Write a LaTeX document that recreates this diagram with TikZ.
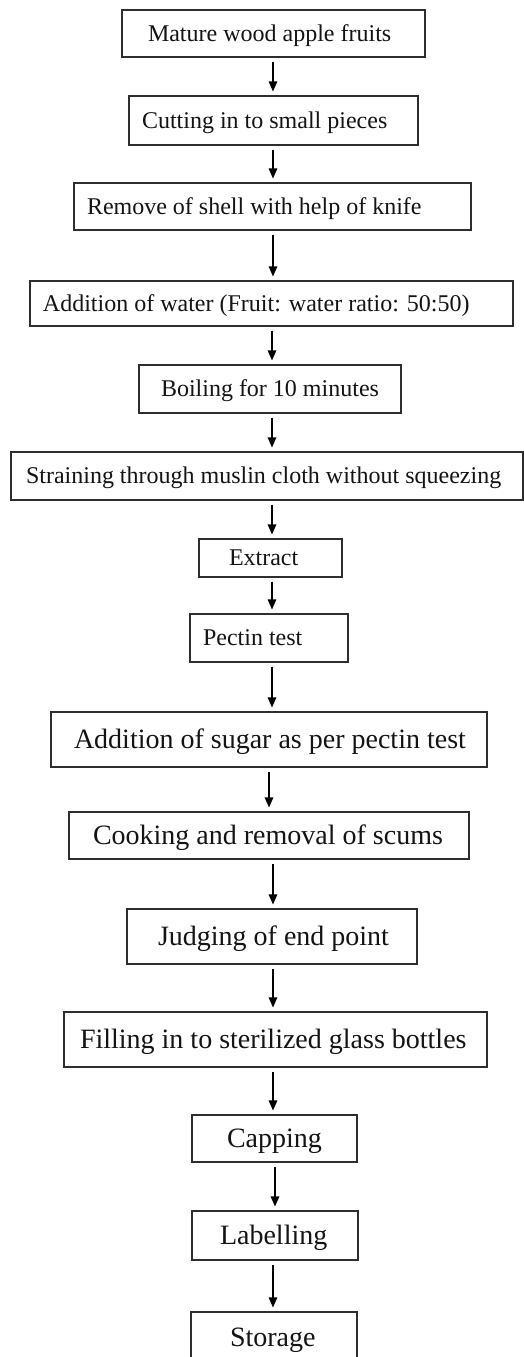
\documentclass[tikz,border=0pt]{standalone}
\usepackage{fontspec}
\setmainfont{Liberation Serif}
\usetikzlibrary{arrows.meta}
\newcommand{\padtext}[3]{\makebox[#1pt][l]{\hspace*{#2pt}#3}}
\tikzset{
  box/.style={draw=black!82, line width=1.1pt, inner sep=0pt, anchor=center, text=black!92},
  sm/.style={font=\fontsize{24}{28}\selectfont, text height=15.9pt, text depth=0pt},
  lg/.style={font=\fontsize{28}{32}\selectfont, text height=18.5pt, text depth=0pt},
  arr/.style={-{Triangle[length=10pt,width=8.5pt]}, line width=1.2pt, draw=black, shorten <=4pt, shorten >=4pt}
}
\begin{document}
\begin{tikzpicture}[x=1pt,y=-1pt]
\clip (0,0) rectangle (524,1357);
\fill[white] (0,0) rectangle (524,1357);
\node[box,sm,minimum height=47pt] (b1) at (273.5,33.5) {\padtext{303}{26}{Mature wood apple fruits}};
\node[box,sm,minimum height=49pt] (b2) at (273.5,120.5) {\padtext{289}{13}{Cutting in to small pieces}};
\node[box,sm,minimum height=47pt] (b3) at (272.5,206.5) {\padtext{397}{13}{Remove of shell with help of knife}};
\node[box,sm,minimum height=45pt] (b4) at (271.5,303.5) {\padtext{483}{13}{Addition of water (Fruit: water ratio: 50:50)}};
\node[box,sm,minimum height=48pt] (b5) at (270,389) {\padtext{262}{22}{Boiling for 10 minutes}};
\node[box,sm,minimum height=48pt] (b6) at (267,476) {\padtext{512}{15}{Straining through muslin cloth without squeezing}};
\node[box,sm,minimum height=38pt] (b7) at (270.5,558) {\padtext{143}{30}{Extract}};
\node[box,sm,minimum height=48pt] (b8) at (269,638) {\padtext{158}{13}{Pectin test}};
\node[box,lg,minimum height=55pt] (b9) at (269,739.5) {\padtext{436}{23}{Addition of sugar as per pectin test}};
\node[box,lg,minimum height=47pt] (b10) at (269,835.5) {\padtext{400}{24}{Cooking and removal of scums}};
\node[box,lg,minimum height=55pt] (b11) at (272,936.5) {\padtext{290}{31}{Judging of end point}};
\node[box,lg,minimum height=55pt] (b12) at (275.5,1039.5) {\padtext{423}{16}{Filling in to sterilized glass bottles}};
\node[box,lg,minimum height=47pt] (b13) at (274.5,1138.5) {\padtext{165}{35}{Capping}};
\node[box,lg,minimum height=49pt] (b14) at (275,1235.5) {\padtext{166}{28}{Labelling}};
\node[box,lg,minimum height=50pt] (b15) at (274,1337) {\padtext{166}{39}{Storage}};
\coordinate (ax) at (273,0);
\coordinate (ay) at (272,0);
\coordinate (az) at (269,0);
\coordinate (aw) at (275,0);
\draw[arr] (b1.south -| ax) -- (b2.north -| ax);
\draw[arr] (b2.south -| ax) -- (b3.north -| ax);
\draw[arr] (b3.south -| ax) -- (b4.north -| ax);
\draw[arr] (b4.south -| ay) -- (b5.north -| ay);
\draw[arr] (b5.south -| ay) -- (b6.north -| ay);
\draw[arr] (b6.south -| ay) -- (b7.north -| ay);
\draw[arr] (b7.south -| ay) -- (b8.north -| ay);
\draw[arr] (b8.south -| ay) -- (b9.north -| ay);
\draw[arr] (b9.south -| az) -- (b10.north -| az);
\draw[arr] (b10.south -| ax) -- (b11.north -| ax);
\draw[arr] (b11.south -| ax) -- (b12.north -| ax);
\draw[arr] (b12.south -| ax) -- (b13.north -| ax);
\draw[arr] (b13.south -| aw) -- (b14.north -| aw);
\draw[arr] (b14.south -| ax) -- (b15.north -| ax);
\end{tikzpicture}
\end{document}
